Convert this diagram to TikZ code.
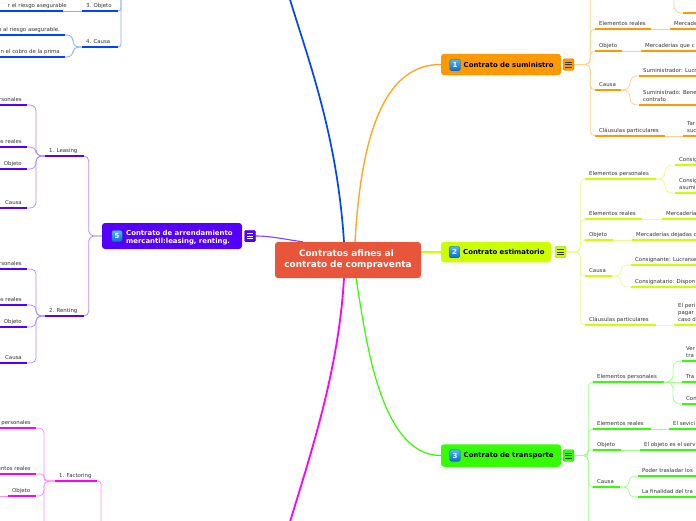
\documentclass[tikz,border=0pt]{standalone}
\usepackage{fontspec}
\setmainfont{DejaVu Sans}
\usetikzlibrary{backgrounds}
\definecolor{cO}{HTML}{FF9900}
\definecolor{cY}{HTML}{CCFF00}
\definecolor{cG}{HTML}{33FF00}
\definecolor{cP}{HTML}{5500FF}
\definecolor{cB}{HTML}{0044FF}
\definecolor{cM}{HTML}{FF00FF}
\definecolor{cR}{HTML}{E8553A}
\definecolor{txt}{HTML}{333333}
\definecolor{icoT}{HTML}{55B4FF}
\definecolor{icoB}{HTML}{0A6CD0}
\tikzset{
  lbl/.style={font=\fontsize{5.4}{6.7}\selectfont, text=txt, inner sep=0pt},
  ul/.style={line width=2.3pt, draw=#1},
  lo/.style={line width=0.8pt, draw=#1!45!white},
  tbox/.style={draw=none, fill=#1, rounded corners=3pt, inner sep=0pt},
  btxt/.style={font=\fontsize{6.9}{8.6}\bfseries\selectfont, inner sep=0pt, anchor=west, align=left},
  ico/.style={rounded corners=1.5pt, top color=icoT, bottom color=icoB, draw=icoB!80!black, line width=0.3pt, minimum width=10.5pt, minimum height=11.5pt, inner sep=0pt, text=white, font=\fontsize{7}{7}\bfseries\selectfont},
  menu/.style={rounded corners=1.5pt, fill=#1, draw=#1!75!black, line width=0.4pt, minimum width=11pt, minimum height=11.5pt, inner sep=0pt},
}
\newcommand\mL[1]{\begin{tabular}[b]{@{}l@{}}#1\end{tabular}}
\newcommand\mmT[6]{%
  \coordinate (#1-l) at (#2,#4);
  \coordinate (#1-r) at (#3,#4);
  \draw[ul=#5] (#1-l) -- (#1-r);
  \node[lbl, anchor=base west] (#1) at ({#2+4},{#4-4}) {#6};}
\newcommand\mmR[7]{%
  \coordinate (#1-l) at (#2,#4);
  \coordinate (#1-r) at (#3,#4);
  \draw[ul=#5] (#1-l) -- (#1-r);
  \node[lbl, anchor=base east] (#1) at (#6,{#4-4}) {#7};}
\newcommand\mmB[5][5pt]{\draw[lo=#2, rounded corners=#1] (#3) -- ++(#4,0) |- (#5);}
\newcommand\mmS[3]{\draw[lo=#1] (#2) -- (#3);}
\newcommand\mmMenu[2]{\foreach \dy in {-2.6,0,2.6}{\draw[#2, line width=0.75pt] ([xshift=-3.2pt,yshift=\dy pt]#1.center) -- ([xshift=3.2pt,yshift=\dy pt]#1.center);}}

\begin{document}
\begin{tikzpicture}[x=1pt,y=-1pt]
\useasboundingbox (0,0) rectangle (696,520);
\clip (0,0) rectangle (696,520);

% ---------- main nodes ----------
\node[tbox=cR, minimum width=146pt, minimum height=36pt, text=white, align=center,
      font=\fontsize{8.9}{11}\bfseries\selectfont] (c) at (348,260)
      {Contratos afines al\hspace*{3pt}\\contrato de compraventa};

\node[tbox=cO, minimum width=120pt, minimum height=21.5pt] (n1) at (501,64.5) {};
\node[ico] (n1i) at (455,65) {1};
\node[btxt] (n1t) at (463.5,64.5) {Contrato de suministro};
\node[menu=cO] (m1) at (568.5,64.5) {};
\mmMenu{m1}{txt}

\node[tbox=cY, minimum width=110pt, minimum height=20.5pt] (n2) at (496,252) {};
\node[ico] (n2i) at (454.5,252) {2};
\node[btxt] (n2t) at (463,252) {Contrato estimatorio};
\node[menu=cY] (m2) at (560.5,252) {};
\mmMenu{m2}{txt}

\node[tbox=cG, minimum width=120pt, minimum height=22.5pt] (n3) at (501,455.5) {};
\node[ico] (n3i) at (455,455.5) {3};
\node[btxt] (n3t) at (463.5,455.5) {Contrato de transporte};
\node[menu=cG] (m3) at (568.5,455.5) {};
\mmMenu{m3}{txt}

\node[tbox=cP, minimum width=140pt, minimum height=26pt] (n5) at (172,236) {};
\node[ico] (n5i) at (117,236) {5};
\node[btxt, text=white] (n5t) at (126,237.5) {Contrato de arrendamiento\\mercantil:leasing, renting.};
\node[menu=cP] (m5) at (250,236) {};
\mmMenu{m5}{white}

\coordinate (n4) at (283,-25);
\coordinate (n6) at (283,545);

% ---------- branch 1 (orange) ----------
\mmT{o-ep}{595}{665}{-12}{cO}{Elementos personales}
\mmT{o-ep1}{683}{700}{13}{cO}{}
\mmT{o-er}{595}{651}{29}{cO}{Elementos reales}
\mmT{o-er1}{670}{700}{29}{cO}{Mercaderías}
\mmT{o-ob}{595}{622}{51}{cO}{Objeto}
\mmT{o-ob1}{641}{700}{51}{cO}{Mercaderías que c}
\mmT{o-ca}{595}{621}{90}{cO}{Causa}
\mmT{o-ca1}{639}{700}{76}{cO}{Suministrador: Lucr}
\mmT{o-ca2}{639}{700}{105}{cO}{\mL{Suministrado: Bene\\contrato}}
\mmT{o-cl}{595}{665}{136}{cO}{Cláusulas particulares}
\mmT{o-cl1}{683}{700}{136}{cO}{\mL{Tar\\suc}}

% ---------- branch 2 (yellow-green) ----------
\mmT{y-ep}{585}{656}{179}{cY}{Elementos personales}
\mmT{y-ep1}{675}{700}{165}{cY}{Consig}
\mmT{y-ep2}{675}{700}{193}{cY}{\mL{Consig\\asumi}}
\mmT{y-er}{585}{642}{219}{cY}{Elementos reales}
\mmT{y-er1}{662}{700}{219}{cY}{Mercadería}
\mmT{y-ob}{585}{613}{240}{cY}{Objeto}
\mmT{y-ob1}{632}{700}{240}{cY}{Mercaderías dejadas c}
\mmT{y-ca}{585}{612}{276}{cY}{Causa}
\mmT{y-ca1}{631}{700}{265}{cY}{Consignante: Lucrarse}
\mmT{y-ca2}{631}{700}{287}{cY}{Consignatario: Dispon}
\mmT{y-cl}{585}{656}{325}{cY}{Cláusulas particulares}
\mmT{y-cl1}{674}{700}{325}{cY}{\mL{El peri\\pagar\\caso d}}

% ---------- branch 3 (green) ----------
\mmT{g-ep}{593}{664}{382}{cG}{Elementos personales}
\mmT{g-ep1}{682}{700}{361}{cG}{\mL{Ver\\tra}}
\mmT{g-ep2}{682}{700}{382}{cG}{Tra}
\mmT{g-ep3}{682}{700}{404}{cG}{Con}
\mmT{g-er}{593}{651}{429}{cG}{Elementos reales}
\mmT{g-er1}{669}{700}{429}{cG}{El sevici}
\mmT{g-ob}{593}{621}{450}{cG}{Objeto}
\mmT{g-ob1}{640}{700}{450}{cG}{El objeto es el serv}
\mmT{g-ca}{593}{620}{487}{cG}{Causa}
\mmT{g-ca1}{638}{700}{476}{cG}{Poder trasladar los}
\mmT{g-ca2}{638}{700}{497}{cG}{La finalidad del tra}
\mmT{g-cl}{593}{664}{531}{cG}{Cláusulas particulares}
\mmT{g-cl1}{682}{700}{531}{cG}{\mL{Lug\\ }}

% ---------- branch 5 (purple) ----------
\mmT{p-le}{45}{84}{156}{cP}{1. Leasing}
\mmT{p-re}{45}{84}{316}{cP}{2. Renting}
\mmR{p-le1}{-30}{27}{105}{cP}{22}{Elementos personales}
\mmR{p-le2}{-30}{27}{147}{cP}{22}{Elementos reales}
\mmR{p-le3}{-30}{27}{169}{cP}{22}{Objeto}
\mmR{p-le4}{-30}{27}{208}{cP}{22}{Causa}
\mmR{p-re1}{-30}{27}{269}{cP}{22}{Elementos personales}
\mmR{p-re2}{-30}{27}{305}{cP}{22}{Elementos reales}
\mmR{p-re3}{-30}{27}{327}{cP}{22}{Objeto}
\mmR{p-re4}{-30}{27}{363}{cP}{22}{Causa}

% ---------- branch 4 (blue, top left) ----------
\mmR{b-o1}{-60}{63}{11}{cB}{67}{r el riesgo asegurable}
\mmT{b-ob}{82}{118}{11}{cB}{3. Objeto}
\mmT{b-ca}{82}{118}{47}{cB}{4. Causa}
\mmR{b-c1}{-60}{65}{35}{cB}{60}{n al riesgo asegurable.}
\mmR{b-c2}{-60}{65}{57}{cB}{60}{n el cobro de la prima}
\coordinate (b-par) at (121,-30);

% ---------- branch 6 (magenta, bottom left) ----------
\mmT{m-fa}{55}{97}{481}{cM}{1. Factoring}
\mmR{m-f1}{-30}{36}{428}{cM}{31}{Elementos personales}
\mmR{m-f2}{-30}{36}{474}{cM}{31}{Elementos reales}
\mmT{m-f3}{8}{36}{496}{cM}{Objeto}
\mmR{m-f4}{-30}{36}{540}{cM}{31}{}
\coordinate (m-f3c) at (-10,496);
\coordinate (m-par) at (101,560);

% ---------- connectors ----------
\begin{scope}[on background layer]
\clip (0,0) rectangle (696,520);
\draw[line width=1.7pt, cB] ([xshift=-4pt]c.north) .. controls (336,120) and (300,40) .. (n4);
\draw[line width=1.4pt, cO!85!white] ([xshift=7pt]c.north) .. controls (362,120) and (390,64.5) .. (n1.west);
\draw[line width=1.2pt, cY] ([yshift=8pt]c.east) -- (n2.west);
\draw[line width=1.2pt, cG] ([xshift=8pt]c.south) .. controls (365,330) and (378,455.5) .. (n3.west);
\draw[line width=1.8pt, cM] ([xshift=-4pt]c.south) .. controls (338,380) and (305,470) .. (n6);
\draw[line width=1.1pt, cP!75!white] (m5.east) .. controls (272,236) and (288,240) .. ([xshift=-45pt]c.north);

% branch 1
\mmB{cO}{m1.east}{16}{o-ep-l}
\mmB{cO}{m1.east}{16}{o-er-l}
\mmB{cO}{m1.east}{16}{o-ob-l}
\mmB{cO}{m1.east}{16}{o-ca-l}
\mmB{cO}{m1.east}{16}{o-cl-l}
\mmB[7pt]{cO}{o-ep-r}{9}{o-ep1-l}
\mmS{cO}{o-er-r}{o-er1-l}
\mmS{cO}{o-ob-r}{o-ob1-l}
\mmB[7pt]{cO}{o-ca-r}{9}{o-ca1-l}
\mmB[7pt]{cO}{o-ca-r}{9}{o-ca2-l}
\mmS{cO}{o-cl-r}{o-cl1-l}
% branch 2
\mmB{cY}{m2.east}{14}{y-ep-l}
\mmB{cY}{m2.east}{14}{y-er-l}
\mmB{cY}{m2.east}{14}{y-ob-l}
\mmB{cY}{m2.east}{14}{y-ca-l}
\mmB{cY}{m2.east}{14}{y-cl-l}
\mmB[7pt]{cY}{y-ep-r}{9}{y-ep1-l}
\mmB[7pt]{cY}{y-ep-r}{9}{y-ep2-l}
\mmS{cY}{y-er-r}{y-er1-l}
\mmS{cY}{y-ob-r}{y-ob1-l}
\mmB[5pt]{cY}{y-ca-r}{9}{y-ca1-l}
\mmB[5pt]{cY}{y-ca-r}{9}{y-ca2-l}
\mmS{cY}{y-cl-r}{y-cl1-l}
% branch 3
\mmB{cG}{m3.east}{14}{g-ep-l}
\mmB{cG}{m3.east}{14}{g-er-l}
\mmB[2.5pt]{cG}{m3.east}{14}{g-ob-l}
\mmB{cG}{m3.east}{14}{g-ca-l}
\mmB{cG}{m3.east}{14}{g-cl-l}
\mmB[7pt]{cG}{g-ep-r}{9}{g-ep1-l}
\mmS{cG}{g-ep-r}{g-ep2-l}
\mmB[7pt]{cG}{g-ep-r}{9}{g-ep3-l}
\mmS{cG}{g-er-r}{g-er1-l}
\mmS{cG}{g-ob-r}{g-ob1-l}
\mmB[5pt]{cG}{g-ca-r}{9}{g-ca1-l}
\mmB[5pt]{cG}{g-ca-r}{9}{g-ca2-l}
\mmS{cG}{g-cl-r}{g-cl1-l}
% branch 5
\mmB{cP}{n5.west}{-13}{p-le-r}
\mmB{cP}{n5.west}{-13}{p-re-r}
\mmB[6pt]{cP}{p-le-l}{-9}{p-le1-r}
\mmB[6pt]{cP}{p-le-l}{-9}{p-le2-r}
\mmB[6pt]{cP}{p-le-l}{-9}{p-le3-r}
\mmB[6pt]{cP}{p-le-l}{-9}{p-le4-r}
\mmB[5pt]{cP}{p-re-l}{-9}{p-re1-r}
\mmB[5pt]{cP}{p-re-l}{-9}{p-re2-r}
\mmB[5pt]{cP}{p-re-l}{-9}{p-re3-r}
\mmB[5pt]{cP}{p-re-l}{-9}{p-re4-r}
% branch 4
\mmS{cB}{b-ob-l}{b-o1-r}
\mmB[6pt]{cB}{b-ca-l}{-9}{b-c1-r}
\mmB[6pt]{cB}{b-ca-l}{-9}{b-c2-r}
\draw[lo=cB, rounded corners=3pt] (b-ob-r) -| (b-par);
\draw[lo=cB, rounded corners=3pt] (b-ca-r) -| (b-par);
% branch 6
\mmB[5pt]{cM}{m-fa-l}{-11}{m-f1-r}
\mmB[3pt]{cM}{m-fa-l}{-11}{m-f2-r}
\mmB[5pt]{cM}{m-fa-l}{-11}{m-f3-r}
\mmB[5pt]{cM}{m-fa-l}{-11}{m-f4-r}
\mmS{cM}{m-f3-l}{m-f3c}
\draw[lo=cM, rounded corners=3pt] (m-fa-r) -| (m-par);
\end{scope}
\end{tikzpicture}
\end{document}
